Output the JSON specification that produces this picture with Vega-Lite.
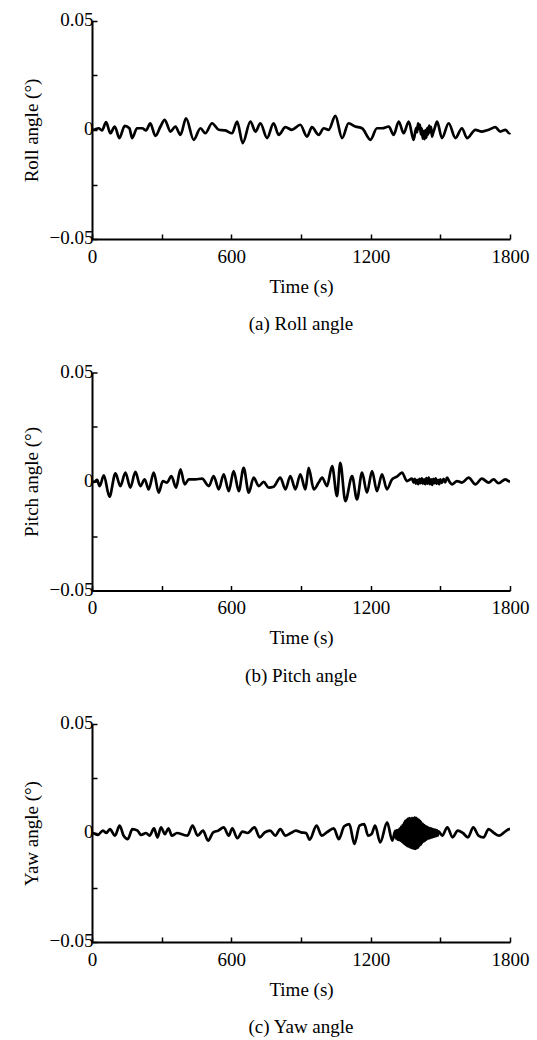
{
  "$schema": "https://vega.github.io/schema/vega-lite/v6.json",
  "background": "white",
  "padding": {"left": 22, "top": 10, "right": 3, "bottom": 3},
  "spacing": 27.5,
  "datasets": {
    "roll": [
      {"t": 0, "v": 0}, {"t": 8, "v": 0.0001}, {"t": 29, "v": 0.0008}, {"t": 43, "v": -0.0002}, {"t": 61, "v": 0.0036},
      {"t": 79, "v": -0.0015}, {"t": 98, "v": 0.0016}, {"t": 118, "v": -0.0037}, {"t": 141, "v": 0.0019}, {"t": 161, "v": 0.0008},
      {"t": 173, "v": -0.0037}, {"t": 194, "v": 0.0008}, {"t": 216, "v": 0.0008}, {"t": 233, "v": -0.0002}, {"t": 251, "v": 0.0031},
      {"t": 273, "v": -0.0027}, {"t": 295, "v": 0.0016}, {"t": 313, "v": 0.0047}, {"t": 338, "v": -0.0007}, {"t": 359, "v": 0.0016},
      {"t": 381, "v": -0.0022}, {"t": 405, "v": 0.0054}, {"t": 438, "v": -0.0045}, {"t": 467, "v": 0.0008}, {"t": 488, "v": -0.0015},
      {"t": 517, "v": 0.0031}, {"t": 546, "v": 0.0001}, {"t": 574, "v": -0.0002}, {"t": 603, "v": -0.0015}, {"t": 625, "v": 0.0039},
      {"t": 649, "v": -0.006}, {"t": 682, "v": 0.0039}, {"t": 704, "v": -0.0007}, {"t": 725, "v": 0.0031}, {"t": 754, "v": -0.0037},
      {"t": 782, "v": 0.0031}, {"t": 804, "v": -0.0022}, {"t": 833, "v": 0.0013}, {"t": 861, "v": 0.0001}, {"t": 897, "v": 0.0024},
      {"t": 926, "v": -0.003}, {"t": 947, "v": 0.0013}, {"t": 976, "v": -0.0022}, {"t": 998, "v": 0.0008}, {"t": 1019, "v": 0.0001},
      {"t": 1048, "v": 0.0065}, {"t": 1077, "v": -0.0037}, {"t": 1105, "v": 0.0031}, {"t": 1134, "v": 0.0016}, {"t": 1163, "v": 0.0008},
      {"t": 1199, "v": -0.0045}, {"t": 1227, "v": 0.0008}, {"t": 1249, "v": 0.0008}, {"t": 1278, "v": 0.0016}, {"t": 1299, "v": -0.0022},
      {"t": 1321, "v": 0.0039}, {"t": 1342, "v": -0.0015}, {"t": 1364, "v": 0.0039}, {"t": 1385, "v": -0.0045}, {"t": 1396, "v": 0.001},
      {"t": 1400, "v": -0.001}, {"t": 1404, "v": 0.003}, {"t": 1408, "v": 0.0005}, {"t": 1412, "v": 0.0025}, {"t": 1416, "v": -0.002},
      {"t": 1420, "v": 0.0008}, {"t": 1424, "v": -0.004}, {"t": 1428, "v": -0.0005}, {"t": 1432, "v": -0.0042}, {"t": 1436, "v": 0},
      {"t": 1440, "v": -0.0035}, {"t": 1444, "v": 0.001}, {"t": 1448, "v": -0.002}, {"t": 1452, "v": 0.002}, {"t": 1456, "v": -0.001},
      {"t": 1460, "v": 0.0015}, {"t": 1464, "v": -0.003}, {"t": 1470, "v": -0.001}, {"t": 1476, "v": 0.001}, {"t": 1486, "v": 0.0039},
      {"t": 1507, "v": -0.0037}, {"t": 1536, "v": 0.0031}, {"t": 1565, "v": -0.0037}, {"t": 1593, "v": 0.0008}, {"t": 1615, "v": -0.0037},
      {"t": 1651, "v": 0.0001}, {"t": 1679, "v": -0.0007}, {"t": 1708, "v": 0.0001}, {"t": 1737, "v": 0.0013}, {"t": 1758, "v": -0.0007},
      {"t": 1780, "v": 0.0001}, {"t": 1797, "v": -0.0015}, {"t": 1800, "v": -0.0012}
    ],
    "pitch": [
      {"t": 0, "v": 0}, {"t": 8, "v": -0.0002}, {"t": 22, "v": 0.0007}, {"t": 33, "v": -0.0021}, {"t": 51, "v": 0.0028},
      {"t": 75, "v": -0.007}, {"t": 101, "v": 0.0037}, {"t": 122, "v": -0.0021}, {"t": 144, "v": 0.0041}, {"t": 165, "v": -0.0028},
      {"t": 187, "v": 0.0044}, {"t": 208, "v": -0.0021}, {"t": 227, "v": 0.001}, {"t": 244, "v": -0.0036}, {"t": 266, "v": 0.0041},
      {"t": 287, "v": -0.0051}, {"t": 305, "v": 0.0002}, {"t": 323, "v": -0.0005}, {"t": 342, "v": 0.0025}, {"t": 362, "v": -0.0028},
      {"t": 381, "v": 0.0056}, {"t": 399, "v": -0.0013}, {"t": 417, "v": 0.001}, {"t": 445, "v": 0.001}, {"t": 474, "v": 0.0013},
      {"t": 503, "v": -0.0021}, {"t": 524, "v": 0.0025}, {"t": 546, "v": -0.0036}, {"t": 567, "v": 0.0033}, {"t": 589, "v": -0.0044},
      {"t": 610, "v": 0.0048}, {"t": 632, "v": -0.0044}, {"t": 653, "v": 0.0063}, {"t": 675, "v": -0.0051}, {"t": 696, "v": 0.0018},
      {"t": 718, "v": -0.0021}, {"t": 739, "v": -0.0002}, {"t": 761, "v": -0.0028}, {"t": 782, "v": -0.0024}, {"t": 811, "v": 0.0018},
      {"t": 833, "v": -0.0036}, {"t": 854, "v": 0.0025}, {"t": 876, "v": -0.0036}, {"t": 897, "v": 0.0033}, {"t": 919, "v": -0.0036},
      {"t": 933, "v": 0.0063}, {"t": 955, "v": -0.0036}, {"t": 976, "v": -0.0005}, {"t": 991, "v": 0.0018}, {"t": 1012, "v": -0.0021},
      {"t": 1034, "v": 0.0071}, {"t": 1055, "v": -0.0067}, {"t": 1069, "v": 0.0086}, {"t": 1091, "v": -0.009}, {"t": 1120, "v": 0.0025},
      {"t": 1141, "v": -0.0082}, {"t": 1163, "v": 0.0041}, {"t": 1184, "v": -0.0051}, {"t": 1206, "v": 0.0048}, {"t": 1227, "v": -0.0044},
      {"t": 1249, "v": 0.0033}, {"t": 1270, "v": -0.0036}, {"t": 1292, "v": 0.001}, {"t": 1313, "v": 0.0022}, {"t": 1335, "v": 0.0041},
      {"t": 1356, "v": 0.0002}, {"t": 1378, "v": 0.0013}, {"t": 1385, "v": -0.0005}, {"t": 1390, "v": 0.0012}, {"t": 1395, "v": -0.001},
      {"t": 1400, "v": 0.0008}, {"t": 1405, "v": -0.0012}, {"t": 1410, "v": 0.0012}, {"t": 1415, "v": -0.0008}, {"t": 1420, "v": 0.0014},
      {"t": 1425, "v": -0.001}, {"t": 1430, "v": 0.001}, {"t": 1435, "v": -0.0012}, {"t": 1440, "v": 0.0016}, {"t": 1445, "v": -0.001},
      {"t": 1450, "v": 0.0018}, {"t": 1455, "v": -0.0012}, {"t": 1460, "v": 0.001}, {"t": 1465, "v": -0.0016}, {"t": 1470, "v": 0.0012},
      {"t": 1475, "v": -0.0008}, {"t": 1480, "v": 0.0015}, {"t": 1485, "v": -0.001}, {"t": 1490, "v": 0.0008}, {"t": 1495, "v": -0.0012},
      {"t": 1500, "v": 0.001}, {"t": 1507, "v": -0.0006}, {"t": 1514, "v": 0.0012}, {"t": 1521, "v": -0.0004}, {"t": 1529, "v": 0.0018},
      {"t": 1540, "v": -0.0002}, {"t": 1550, "v": -0.0013}, {"t": 1572, "v": 0.0002}, {"t": 1593, "v": -0.0005}, {"t": 1622, "v": 0.0018},
      {"t": 1651, "v": -0.0013}, {"t": 1679, "v": 0.0013}, {"t": 1708, "v": -0.0005}, {"t": 1729, "v": 0.001}, {"t": 1751, "v": -0.0008},
      {"t": 1780, "v": 0.001}, {"t": 1797, "v": 0.0001}, {"t": 1800, "v": 0.0001}
    ],
    "yaw": [
      {"t": 0, "v": 0}, {"t": 3, "v": 0}, {"t": 25, "v": -0.0009}, {"t": 47, "v": 0.0011}, {"t": 62, "v": 0}, {"t": 77, "v": 0.0018},
      {"t": 99, "v": -0.0012}, {"t": 119, "v": 0.0034}, {"t": 136, "v": -0.0012}, {"t": 154, "v": -0.0028}, {"t": 174, "v": 0.0018},
      {"t": 196, "v": 0.0011}, {"t": 211, "v": -0.0009}, {"t": 233, "v": 0}, {"t": 248, "v": -0.0012}, {"t": 267, "v": 0.0021},
      {"t": 282, "v": -0.002}, {"t": 297, "v": 0.0026}, {"t": 314, "v": -0.0005}, {"t": 329, "v": 0.0021}, {"t": 344, "v": -0.0012},
      {"t": 366, "v": 0}, {"t": 396, "v": -0.0009}, {"t": 411, "v": -0.0012}, {"t": 433, "v": 0.0034}, {"t": 455, "v": -0.0012},
      {"t": 478, "v": 0.0011}, {"t": 500, "v": -0.0035}, {"t": 522, "v": 0.0003}, {"t": 544, "v": 0.0011}, {"t": 567, "v": 0.0026},
      {"t": 589, "v": -0.0012}, {"t": 604, "v": 0.0021}, {"t": 626, "v": -0.0024}, {"t": 648, "v": 0.0006}, {"t": 670, "v": 0},
      {"t": 700, "v": 0.0026}, {"t": 722, "v": -0.002}, {"t": 744, "v": 0.0003}, {"t": 767, "v": 0.0011}, {"t": 789, "v": -0.0012},
      {"t": 811, "v": 0.0018}, {"t": 833, "v": -0.0012}, {"t": 856, "v": 0}, {"t": 878, "v": 0.0011}, {"t": 900, "v": 0.0003},
      {"t": 922, "v": 0}, {"t": 937, "v": -0.0031}, {"t": 967, "v": 0.0034}, {"t": 989, "v": -0.0012}, {"t": 1011, "v": 0.0003},
      {"t": 1041, "v": 0.0021}, {"t": 1063, "v": -0.0028}, {"t": 1086, "v": 0.0031}, {"t": 1108, "v": 0.0041}, {"t": 1130, "v": -0.005},
      {"t": 1152, "v": 0.0034}, {"t": 1172, "v": 0.0041}, {"t": 1189, "v": -0.0012}, {"t": 1204, "v": -0.0005}, {"t": 1219, "v": 0.0034},
      {"t": 1241, "v": -0.0043}, {"t": 1271, "v": 0.0049}, {"t": 1293, "v": -0.0035},
      {"t": 1306, "v": 0.001}, {"t": 1309, "v": -0.0025}, {"t": 1312, "v": 0.0012}, {"t": 1315, "v": -0.003}, {"t": 1318, "v": 0.0015},
      {"t": 1321, "v": -0.0032}, {"t": 1324, "v": 0.002}, {"t": 1327, "v": -0.0035}, {"t": 1330, "v": 0.0028}, {"t": 1333, "v": -0.004},
      {"t": 1336, "v": 0.0035}, {"t": 1339, "v": -0.0045}, {"t": 1342, "v": 0.0045}, {"t": 1345, "v": -0.005}, {"t": 1348, "v": 0.0055},
      {"t": 1351, "v": -0.0055}, {"t": 1354, "v": 0.006}, {"t": 1357, "v": -0.006}, {"t": 1360, "v": 0.0065}, {"t": 1363, "v": -0.0062},
      {"t": 1366, "v": 0.0068}, {"t": 1369, "v": -0.0065}, {"t": 1372, "v": 0.0066}, {"t": 1375, "v": -0.0068}, {"t": 1378, "v": 0.007},
      {"t": 1381, "v": -0.007}, {"t": 1384, "v": 0.0068}, {"t": 1387, "v": -0.0072}, {"t": 1390, "v": 0.0072}, {"t": 1393, "v": -0.0073},
      {"t": 1396, "v": 0.007}, {"t": 1399, "v": -0.007}, {"t": 1402, "v": 0.0065}, {"t": 1405, "v": -0.0066}, {"t": 1408, "v": 0.006},
      {"t": 1411, "v": -0.0058}, {"t": 1414, "v": 0.0055}, {"t": 1417, "v": -0.0052}, {"t": 1420, "v": 0.0048}, {"t": 1423, "v": -0.0045},
      {"t": 1426, "v": 0.0042}, {"t": 1429, "v": -0.004}, {"t": 1432, "v": 0.0036}, {"t": 1435, "v": -0.0035}, {"t": 1438, "v": 0.0032},
      {"t": 1441, "v": -0.003}, {"t": 1444, "v": 0.0028}, {"t": 1447, "v": -0.0026}, {"t": 1450, "v": 0.0025}, {"t": 1453, "v": -0.0024},
      {"t": 1456, "v": 0.0022}, {"t": 1459, "v": -0.0022}, {"t": 1462, "v": 0.002}, {"t": 1465, "v": -0.002}, {"t": 1468, "v": 0.0018},
      {"t": 1471, "v": -0.0018}, {"t": 1474, "v": 0.0016}, {"t": 1477, "v": -0.0016}, {"t": 1480, "v": 0.0014}, {"t": 1483, "v": -0.0014},
      {"t": 1486, "v": 0.0012}, {"t": 1489, "v": -0.0012}, {"t": 1492, "v": 0.0008},
      {"t": 1508, "v": -0.0012}, {"t": 1530, "v": 0.0026}, {"t": 1553, "v": -0.002}, {"t": 1575, "v": 0.0011}, {"t": 1597, "v": 0},
      {"t": 1619, "v": -0.002}, {"t": 1642, "v": 0.0026}, {"t": 1664, "v": -0.0012}, {"t": 1686, "v": -0.002}, {"t": 1708, "v": 0.0018},
      {"t": 1731, "v": 0}, {"t": 1753, "v": -0.0012}, {"t": 1775, "v": 0.0003}, {"t": 1797, "v": 0.0018}, {"t": 1800, "v": 0.0018}
    ]
  },
  "vconcat": [
    {
      "data": {"name": "roll"},
      "width": 418, "height": 218,
      "title": {"text": "(a) Roll angle"},
      "mark": {"type": "line", "color": "black", "strokeWidth": 2.7, "interpolate": "monotone"},
      "encoding": {
        "x": {"field": "t", "type": "quantitative", "title": "Time (s)", "scale": {"domain": [0, 1800], "nice": false},
              "axis": {"values": [0, 300, 600, 900, 1200, 1500, 1800], "format": "d", "labelExpr": "datum.value % 600 == 0 ? datum.label : ''"}},
        "y": {"field": "v", "type": "quantitative", "title": "Roll angle (°)", "scale": {"domain": [-0.05, 0.05], "nice": false},
              "axis": {"values": [-0.05, -0.025, 0, 0.025, 0.05], "format": ".2f", "labelExpr": "datum.value == 0 ? '0' : (abs(datum.value) > 0.04 ? datum.label : '')"}}
      }
    },
    {
      "data": {"name": "pitch"},
      "width": 418, "height": 218,
      "title": {"text": "(b) Pitch angle"},
      "mark": {"type": "line", "color": "black", "strokeWidth": 2.7, "interpolate": "monotone"},
      "encoding": {
        "x": {"field": "t", "type": "quantitative", "title": "Time (s)", "scale": {"domain": [0, 1800], "nice": false},
              "axis": {"values": [0, 300, 600, 900, 1200, 1500, 1800], "format": "d", "labelExpr": "datum.value % 600 == 0 ? datum.label : ''"}},
        "y": {"field": "v", "type": "quantitative", "title": "Pitch angle (°)", "scale": {"domain": [-0.05, 0.05], "nice": false},
              "axis": {"values": [-0.05, -0.025, 0, 0.025, 0.05], "format": ".2f", "labelExpr": "datum.value == 0 ? '0' : (abs(datum.value) > 0.04 ? datum.label : '')"}}
      }
    },
    {
      "data": {"name": "yaw"},
      "width": 418, "height": 218,
      "title": {"text": "(c) Yaw angle"},
      "mark": {"type": "line", "color": "black", "strokeWidth": 2.7, "interpolate": "monotone"},
      "encoding": {
        "x": {"field": "t", "type": "quantitative", "title": "Time (s)", "scale": {"domain": [0, 1800], "nice": false},
              "axis": {"values": [0, 300, 600, 900, 1200, 1500, 1800], "format": "d", "labelExpr": "datum.value % 600 == 0 ? datum.label : ''"}},
        "y": {"field": "v", "type": "quantitative", "title": "Yaw angle (°)", "scale": {"domain": [-0.05, 0.05], "nice": false},
              "axis": {"values": [-0.05, -0.025, 0, 0.025, 0.05], "format": ".2f", "labelExpr": "datum.value == 0 ? '0' : (abs(datum.value) > 0.04 ? datum.label : '')"}}
      }
    }
  ],
  "config": {
    "font": "Liberation Serif",
    "view": {"stroke": null},
    "title": {"orient": "bottom", "anchor": "middle", "fontSize": 19, "fontWeight": "normal", "font": "Liberation Serif", "color": "black", "offset": 19},
    "axis": {
      "grid": false,
      "domainColor": "black", "domainWidth": 2,
      "tickColor": "black", "tickWidth": 1.5, "tickSize": -5,
      "labelFont": "Liberation Serif", "labelFontSize": 19, "labelColor": "black",
      "labelFlush": false, "labelOverlap": false,
      "titleFont": "Liberation Serif", "titleFontSize": 19, "titleFontWeight": "normal", "titleColor": "black"
    },
    "axisX": {"labelPadding": 13, "titlePadding": 11},
    "axisY": {"labelPadding": 4, "titlePadding": 8, "labelOffset": -1.5}
  }
}
